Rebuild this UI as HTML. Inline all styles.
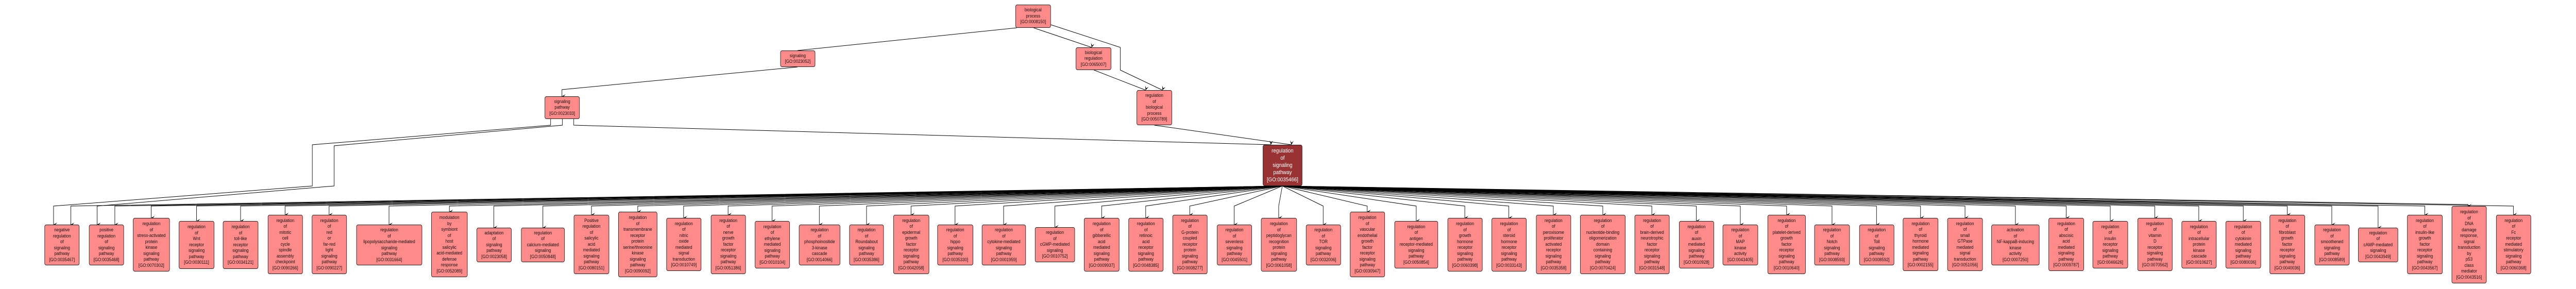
<!DOCTYPE html>
<html><head><meta charset="utf-8"><style>
html,body{margin:0;padding:0;background:#fff;overflow:hidden;}
#w{position:absolute;left:0;top:0;width:5675px;height:561px;transform-origin:0 0;font-family:"Liberation Sans Narrow","Liberation Sans",sans-serif;}
.n{position:absolute;box-sizing:border-box;background:#ff8a8a;border:1px solid #222;border-radius:4px;display:flex;align-items:center;justify-content:center;text-align:center;font-size:9px;line-height:11.5px;color:#111;white-space:nowrap;overflow:hidden;}
.m{background:#993333;color:#fff;font-size:11px;line-height:14px;}
svg{position:absolute;left:0;top:0;}
</style></head><body>
<div id="w">
<svg id="s" width="5675" height="561" xmlns="http://www.w3.org/2000/svg">
<defs><marker id="a" markerWidth="10" markerHeight="10" refX="5" refY="9" orient="auto-start-reverse" markerUnits="userSpaceOnUse"><path d="M1,1 L5,9 L9,1 L5,5 Z" fill="#000"/></marker></defs>
<g id="g" fill="none" stroke="#000" stroke-width="1"></g>
</svg>
<div class="n" style="left:2237px;top:9px;width:78px;height:45px">biological<br>process<br>[GO:0008150]</div>
<div class="n" style="left:1719px;top:98px;width:77px;height:32px">signaling<br>[GO:0023052]</div>
<div class="n" style="left:2370px;top:92px;width:78px;height:44px">biological<br>regulation<br>[GO:0065007]</div>
<div class="n" style="left:1200px;top:187px;width:77px;height:44px">signaling<br>pathway<br>[GO:0023033]</div>
<div class="n" style="left:2504px;top:175px;width:78px;height:68px">regulation<br>of<br>biological<br>process<br>[GO:0050789]</div>
<div class="n m" style="left:2782px;top:281px;width:87px;height:80px">regulation<br>of<br>signaling<br>pathway<br>[GO:0035466]</div>

<div class="n" style="left:98px;top:436px;width:77px;height:79px">negative<br>regulation<br>of<br>signaling<br>pathway<br>[GO:0035467]</div>
<div class="n" style="left:196px;top:436px;width:77px;height:79px">positive<br>regulation<br>of<br>signaling<br>pathway<br>[GO:0035468]</div>
<div class="n" style="left:293px;top:423px;width:81px;height:104px">regulation<br>of<br>stress-activated<br>protein<br>kinase<br>signaling<br>pathway<br>[GO:0070302]</div>
<div class="n" style="left:394px;top:429px;width:78px;height:93px">regulation<br>of<br>Wnt<br>receptor<br>signaling<br>pathway<br>[GO:0030111]</div>
<div class="n" style="left:491px;top:429px;width:78px;height:93px">regulation<br>of<br>toll-like<br>receptor<br>signaling<br>pathway<br>[GO:0034121]</div>
<div class="n" style="left:590px;top:417px;width:77px;height:115px">regulation<br>of<br>mitotic<br>cell<br>cycle<br>spindle<br>assembly<br>checkpoint<br>[GO:0090266]</div>
<div class="n" style="left:687px;top:417px;width:77px;height:115px">regulation<br>of<br>red<br>or<br>far-red<br>light<br>signaling<br>pathway<br>[GO:0090227]</div>
<div class="n" style="left:785px;top:436px;width:145px;height:79px">regulation<br>of<br>lipopolysaccharide-mediated<br>signaling<br>pathway<br>[GO:0031664]</div>
<div class="n" style="left:950px;top:411px;width:80px;height:127px">modulation<br>by<br>symbiont<br>of<br>host<br>salicylic<br>acid-mediated<br>defense<br>response<br>[GO:0052089]</div>
<div class="n" style="left:1050px;top:442px;width:77px;height:67px">adaptation<br>of<br>signaling<br>pathway<br>[GO:0023058]</div>
<div class="n" style="left:1148px;top:442px;width:96px;height:67px">regulation<br>of<br>calcium-mediated<br>signaling<br>[GO:0050848]</div>
<div class="n" style="left:1264px;top:417px;width:78px;height:115px">Positive<br>regulation<br>of<br>salicylic<br>acid<br>mediated<br>signaling<br>pathway<br>[GO:0080151]</div>
<div class="n" style="left:1362px;top:411px;width:86px;height:127px">regulation<br>of<br>transmembrane<br>receptor<br>protein<br>serine/threonine<br>kinase<br>signaling<br>pathway<br>[GO:0090092]</div>
<div class="n" style="left:1468px;top:423px;width:77px;height:103px">regulation<br>of<br>nitric<br>oxide<br>mediated<br>signal<br>transduction<br>[GO:0010749]</div>
<div class="n" style="left:1566px;top:417px;width:77px;height:115px">regulation<br>of<br>nerve<br>growth<br>factor<br>receptor<br>signaling<br>pathway<br>[GO:0051386]</div>
<div class="n" style="left:1663px;top:429px;width:77px;height:92px">regulation<br>of<br>ethylene<br>mediated<br>signaling<br>pathway<br>[GO:0010104]</div>
<div class="n" style="left:1760px;top:436px;width:91px;height:79px">regulation<br>of<br>phosphoinositide<br>3-kinase<br>cascade<br>[GO:0014066]</div>
<div class="n" style="left:1871px;top:436px;width:76px;height:79px">regulation<br>of<br>Roundabout<br>signaling<br>pathway<br>[GO:0035386]</div>
<div class="n" style="left:1968px;top:417px;width:79px;height:115px">regulation<br>of<br>epidermal<br>growth<br>factor<br>receptor<br>signaling<br>pathway<br>[GO:0042058]</div>
<div class="n" style="left:2065px;top:436px;width:79px;height:79px">regulation<br>of<br>hippo<br>signaling<br>pathway<br>[GO:0035330]</div>
<div class="n" style="left:2163px;top:436px;width:97px;height:79px">regulation<br>of<br>cytokine-mediated<br>signaling<br>pathway<br>[GO:0001959]</div>
<div class="n" style="left:2280px;top:441px;width:88px;height:68px">regulation<br>of<br>cGMP-mediated<br>signaling<br>[GO:0010752]</div>
<div class="n" style="left:2388px;top:423px;width:78px;height:104px">regulation<br>of<br>gibberellic<br>acid<br>mediated<br>signaling<br>pathway<br>[GO:0009937]</div>
<div class="n" style="left:2486px;top:423px;width:77px;height:104px">regulation<br>of<br>retinoic<br>acid<br>receptor<br>signaling<br>pathway<br>[GO:0048385]</div>
<div class="n" style="left:2583px;top:417px;width:77px;height:115px">regulation<br>of<br>G-protein<br>coupled<br>receptor<br>protein<br>signaling<br>pathway<br>[GO:0008277]</div>
<div class="n" style="left:2681px;top:436px;width:77px;height:79px">regulation<br>of<br>sevenless<br>signaling<br>pathway<br>[GO:0045501]</div>
<div class="n" style="left:2778px;top:423px;width:79px;height:104px">regulation<br>of<br>peptidoglycan<br>recognition<br>protein<br>signaling<br>pathway<br>[GO:0061058]</div>
<div class="n" style="left:2877px;top:436px;width:77px;height:79px">regulation<br>of<br>TOR<br>signaling<br>pathway<br>[GO:0032006]</div>
<div class="n" style="left:2974px;top:411px;width:77px;height:127px">regulation<br>of<br>vascular<br>endothelial<br>growth<br>factor<br>receptor<br>signaling<br>pathway<br>[GO:0030947]</div>
<div class="n" style="left:3072px;top:429px;width:96px;height:92px">regulation<br>of<br>antigen<br>receptor-mediated<br>signaling<br>pathway<br>[GO:0050854]</div>
<div class="n" style="left:3189px;top:423px;width:77px;height:104px">regulation<br>of<br>growth<br>hormone<br>receptor<br>signaling<br>pathway<br>[GO:0060398]</div>
<div class="n" style="left:3286px;top:423px;width:77px;height:104px">regulation<br>of<br>steroid<br>hormone<br>receptor<br>signaling<br>pathway<br>[GO:0033143]</div>
<div class="n" style="left:3384px;top:417px;width:77px;height:115px">regulation<br>of<br>peroxisome<br>proliferator<br>activated<br>receptor<br>signaling<br>pathway<br>[GO:0035358]</div>
<div class="n" style="left:3481px;top:417px;width:100px;height:115px">regulation<br>of<br>nucleotide-binding<br>oligomerization<br>domain<br>containing<br>signaling<br>pathway<br>[GO:0070424]</div>
<div class="n" style="left:3601px;top:417px;width:77px;height:115px">regulation<br>of<br>brain-derived<br>neurotrophic<br>factor<br>receptor<br>signaling<br>pathway<br>[GO:0031548]</div>
<div class="n" style="left:3699px;top:429px;width:77px;height:92px">regulation<br>of<br>auxin<br>mediated<br>signaling<br>pathway<br>[GO:0010928]</div>
<div class="n" style="left:3795px;top:436px;width:78px;height:79px">regulation<br>of<br>MAP<br>kinase<br>activity<br>[GO:0043405]</div>
<div class="n" style="left:3894px;top:417px;width:84px;height:115px">regulation<br>of<br>platelet-derived<br>growth<br>factor<br>receptor<br>signaling<br>pathway<br>[GO:0010640]</div>
<div class="n" style="left:3997px;top:436px;width:78px;height:79px">regulation<br>of<br>Notch<br>signaling<br>pathway<br>[GO:0008593]</div>
<div class="n" style="left:4096px;top:436px;width:77px;height:79px">regulation<br>of<br>Toll<br>signaling<br>pathway<br>[GO:0008592]</div>
<div class="n" style="left:4192px;top:423px;width:78px;height:103px">regulation<br>of<br>thyroid<br>hormone<br>mediated<br>signaling<br>pathway<br>[GO:0002155]</div>
<div class="n" style="left:4290px;top:423px;width:78px;height:103px">regulation<br>of<br>small<br>GTPase<br>mediated<br>signal<br>transduction<br>[GO:0051056]</div>
<div class="n" style="left:4387px;top:436px;width:106px;height:79px">activation<br>of<br>NF-kappaB-inducing<br>kinase<br>activity<br>[GO:0007250]</div>
<div class="n" style="left:4513px;top:423px;width:78px;height:103px">regulation<br>of<br>abscisic<br>acid<br>mediated<br>signaling<br>pathway<br>[GO:0009787]</div>
<div class="n" style="left:4610px;top:429px;width:78px;height:92px">regulation<br>of<br>insulin<br>receptor<br>signaling<br>pathway<br>[GO:0046626]</div>
<div class="n" style="left:4709px;top:423px;width:77px;height:103px">regulation<br>of<br>vitamin<br>D<br>receptor<br>signaling<br>pathway<br>[GO:0070562]</div>
<div class="n" style="left:4806px;top:429px;width:77px;height:92px">regulation<br>of<br>intracellular<br>protein<br>kinase<br>cascade<br>[GO:0010627]</div>
<div class="n" style="left:4903px;top:429px;width:78px;height:92px">regulation<br>of<br>cytokinin<br>mediated<br>signaling<br>pathway<br>[GO:0080036]</div>
<div class="n" style="left:5000px;top:417px;width:78px;height:115px">regulation<br>of<br>fibroblast<br>growth<br>factor<br>receptor<br>signaling<br>pathway<br>[GO:0040036]</div>
<div class="n" style="left:5099px;top:436px;width:77px;height:79px">regulation<br>of<br>smoothened<br>signaling<br>pathway<br>[GO:0008589]</div>
<div class="n" style="left:5195px;top:442px;width:88px;height:67px">regulation<br>of<br>cAMP-mediated<br>signaling<br>[GO:0043949]</div>
<div class="n" style="left:5303px;top:417px;width:78px;height:115px">regulation<br>of<br>insulin-like<br>growth<br>factor<br>receptor<br>signaling<br>pathway<br>[GO:0043567]</div>
<div class="n" style="left:5401px;top:400px;width:77px;height:150px">regulation<br>of<br>DNA<br>damage<br>response,<br>signal<br>transduction<br>by<br>p53<br>class<br>mediator<br>[GO:0043516]</div>
<div class="n" style="left:5499px;top:417px;width:77px;height:115px">regulation<br>of<br>Fc<br>receptor<br>mediated<br>stimulatory<br>signaling<br>pathway<br>[GO:0060368]</div>
</div>
<script>
var g=document.getElementById('g');
function pl(pts){var p=document.createElementNS('http://www.w3.org/2000/svg','polyline');p.setAttribute('points',pts.map(function(a){return a.join(',')}).join(' '));p.setAttribute('marker-end','url(#a)');g.appendChild(p);}
var kids=[[156,436],[253,436],[333,423],[433,429],[530,429],[628,417],[725,417],[857,436],[990,411],[1088,442],[1196,442],[1303,417],[1405,411],[1506,423],[1604,417],[1701,429],[1805,436],[1909,436],[2007,417],[2104,436],[2211,436],[2324,441],[2427,423],[2524,423],[2621,417],[2719,436],[2817,423],[2915,436],[3012,411],[3120,429],[3227,423],[3324,423],[3422,417],[3531,417],[3639,417],[3737,429],[3834,436],[3936,417],[4036,436],[4134,436],[4231,423],[4329,423],[4440,436],[4552,423],[4649,429],[4747,423],[4844,429],[4942,429],[5039,417],[5137,436],[5239,442],[5342,417],[5437,400],[5537,417]];
kids.forEach(function(k){ if(k[1]<=400){pl([[2825,361],[k[0],397],[k[0],k[1]]]);} else pl([[2825,361],[k[0],400],[k[0],k[1]]]);});
pl([[2240,54],[1757,98]]);
pl([[2277,54],[2405,92]]);
pl([[2315,48],[2468,92],[2468,136],[2561,175]]);
pl([[2410,136],[2524,175]]);
pl([[2543,243],[2845,281]]);
pl([[1757,130],[1238,174],[1238,187]]);
pl([[1264,231],[1264,243],[2800,281]]);
pl([[1213,231],[1213,243],[688,281],[688,361],[118,400],[118,436]]);
pl([[1239,231],[1239,243],[736,283],[736,361],[214,400],[214,436]]);
function fit(){var W=window.innerWidth||document.documentElement.clientWidth||5675,H=window.innerHeight||document.documentElement.clientHeight||561;var sx=W/5675,sy=H/561;if(!(sx>0))sx=1;if(!(sy>0))sy=1;document.getElementById('w').style.transform='scale('+sx+','+sy+')';}
fit();window.addEventListener('resize',fit);
</script>
</body></html>
